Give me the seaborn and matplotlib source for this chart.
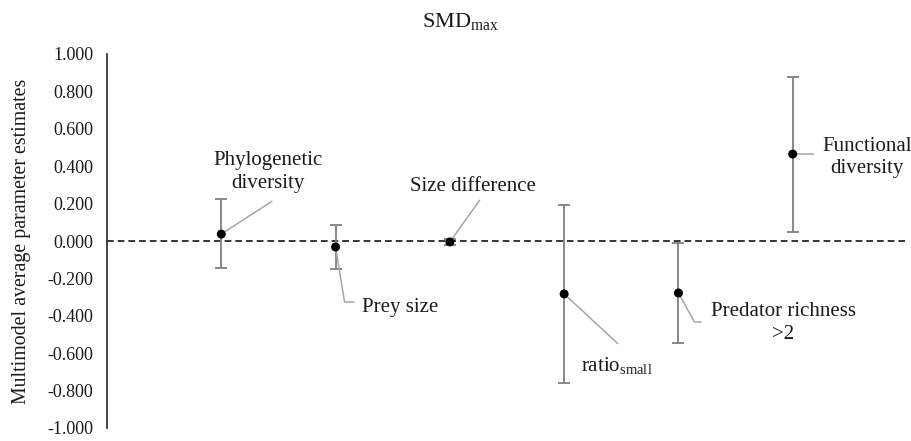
import matplotlib
matplotlib.use("Agg")
import matplotlib.pyplot as plt
import seaborn as sns
import numpy as np

# ---- data ----
categories = ["Phylogenetic\ndiversity", "Prey size", "Size difference",
              r"ratio$_{\mathrm{small}}$", "Predator richness\n>2",
              "Functional\ndiversity"]
estimates = [0.037, -0.032, -0.005, -0.283, -0.278, 0.465]
lower = [-0.144, -0.150, -0.020, -0.759, -0.545, 0.048]
upper = [0.225, 0.086, 0.012, 0.193, -0.011, 0.877]
tick_values = [1.0, 0.8, 0.6, 0.4, 0.2, 0.0, -0.2, -0.4, -0.6, -0.8, -1.0]
tick_labels = ["1.000", "0.800", "0.600", "0.400", "0.200", "0.000",
               "-0.200", "-0.400", "-0.600", "-0.800", "-1.000"]
title = r"SMD$_{\mathrm{max}}$"
ylabel = "Multimodel average parameter estimates"

# ---- style ----
sns.set_theme(style="white")
plt.rcParams["font.family"] = ["Liberation Serif", "DejaVu Serif"]
plt.rcParams["mathtext.fontset"] = "custom"
plt.rcParams["mathtext.rm"] = "Liberation Serif"
plt.rcParams["mathtext.it"] = "Liberation Serif:italic"
plt.rcParams["mathtext.bf"] = "Liberation Serif:bold"
plt.rcParams["axes.unicode_minus"] = False
TXT = "#1a1a1a"

W, H = 911, 441
fig = plt.figure(figsize=(W / 100, H / 100), dpi=100)
ax = fig.add_axes([107 / W, 1 - 428 / H, 800 / W, 374 / H])

x = np.arange(len(categories))
est = np.array(estimates)
lo = np.array(lower)
hi = np.array(upper)

ax.set_xlim(-1, 6)
ax.set_ylim(-1.0, 1.0)

# zero reference line
ax.axhline(0, color="black", lw=1.1, ls=(0, (4.4, 2.6)), zorder=1)

# error bars
ax.errorbar(x, est, yerr=[est - lo, hi - est], fmt="none", ecolor="#7f7f7f",
            elinewidth=1.3, capsize=4, capthick=1.3, zorder=2)

# points
sns.scatterplot(x=x, y=est, color="black", s=42, edgecolor="none",
                ax=ax, zorder=5, legend=False)

# helper: offset in image pixels (dx right, dy down) from a data point
def off(i, dx, dy):
    d = ax.transData.transform((x[i], est[i]))
    return ax.transData.inverted().transform((d[0] + dx, d[1] - dy))

leaders = [
    [(0, 0), (51, -33)],
    [(0, 0), (9, 55), (19, 55)],
    [(0, 0), (30, -42)],
    [(0, 0), (54, 50)],
    [(0, 0), (16, 29), (23, 29)],
    [(0, 0), (21, 0)],
]
# text anchor offsets: (dx, dy, ha, va)
text_pos = [
    (47, -62, "center", "center"),
    (26, 65, "left", "baseline"),
    (23, -51, "center", "baseline"),
    (17, 77, "left", "baseline"),
    (105, 30, "center", "center"),
    (74, 3.5, "center", "center"),
]

for i in range(len(categories)):
    pts = np.array([off(i, dx, dy) for dx, dy in leaders[i]])
    ax.plot(pts[:, 0], pts[:, 1], color="#a6a6a6", lw=1.1, zorder=3,
            solid_capstyle="butt")
    dx, dy, ha, va = text_pos[i]
    tx, ty = off(i, dx, dy)
    ax.text(tx, ty, categories[i], ha=ha, va=va, multialignment="center",
            fontsize=15, color=TXT, linespacing=1.25, zorder=6)

# axes styling
for s in ["top", "right", "bottom"]:
    ax.spines[s].set_visible(False)
ax.spines["left"].set_color("#222222")
ax.spines["left"].set_linewidth(1.2)
ax.set_xticks([])
ax.set_yticks(tick_values)
ax.set_yticklabels(tick_labels)
ax.tick_params(axis="y", length=0, pad=10, labelsize=13, labelcolor=TXT)
ax.set_ylabel(ylabel, fontsize=14.3, color=TXT, va="center")
ax.yaxis.set_label_coords((22 - 107) / 800, 0.5)
ax.grid(False)

fig.text(460 / W, 1 - 27 / H, title, ha="center", va="baseline",
         fontsize=16, color=TXT)

fig.savefig("out.png", dpi=100)
